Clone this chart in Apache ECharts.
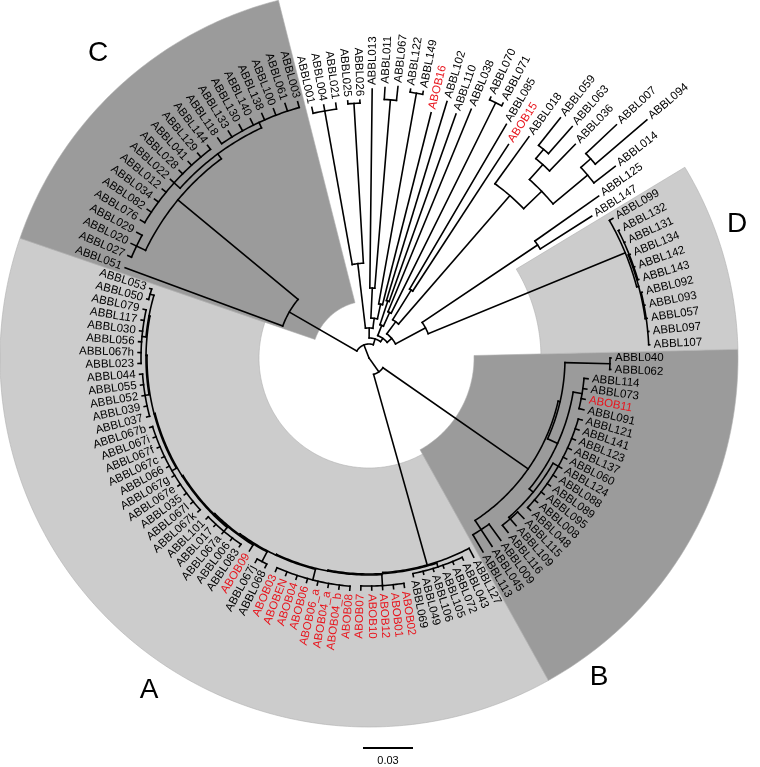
<!DOCTYPE html>
<html><head><meta charset="utf-8">
<script src="https://cdn.jsdelivr.net/npm/echarts@6/dist/echarts.min.js"></script>
<style>html,body{margin:0;padding:0;background:#fff}#main{width:760px;height:767px}</style>
</head><body><div id="main"></div>
<script>
// ---------- DATA ----------
// Leaves in circular (clockwise) order
const leafNames = [
 'ABBL040','ABBL062','ABBL114','ABBL073','ABOB11','ABBL091','ABBL121','ABBL141','ABBL123','ABBL137','ABBL060','ABBL124','ABBL088','ABBL089','ABBL095','ABBL008','ABBL048','ABBL115','ABBL109','ABBL116','ABBL009','ABBL045','ABBL113',
 'ABBL127','ABBL043','ABBL072','ABBL105','ABBL106','ABBL049','ABBL069','ABOB02','ABOB01','ABOB12','ABOB10','ABOB07','ABOB08','ABOB04_b','ABOB04_a','ABOB06_a','ABOB06','ABOB04','ABOBEN','ABOB03','ABBL068','ABBL067j','ABOB09','ABBL083','ABBL006','ABBL067a','ABBL017','ABBL101','ABBL067k','ABBL067l','ABBL035','ABBL067e','ABBL067g','ABBL066','ABBL067c','ABBL067f','ABBL067i','ABBL067b','ABBL037','ABBL039','ABBL052','ABBL055','ABBL044','ABBL023','ABBL067h','ABBL056','ABBL030','ABBL117','ABBL079','ABBL050','ABBL053',
 'ABBL051','ABBL027','ABBL020','ABBL029','ABBL076','ABBL082','ABBL034','ABBL012','ABBL022','ABBL028','ABBL041','ABBL129','ABBL144','ABBL118','ABBL133','ABBL130','ABBL140','ABBL138','ABBL100','ABBL061','ABBL003',
 'ABBL001','ABBL004','ABBL021','ABBL025','ABBL026','ABBL013','ABBL011','ABBL067','ABBL122','ABBL149','ABOB16','ABBL102','ABBL110','ABBL038','ABBL070','ABBL071','ABBL085','ABOB15','ABBL018','ABBL059','ABBL063','ABBL036','ABBL007','ABBL094','ABBL014','ABBL125','ABBL147',
 'ABBL099','ABBL132','ABBL131','ABBL134','ABBL142','ABBL143','ABBL092','ABBL093','ABBL057','ABBL097','ABBL107'
];
const leafParents = [
 'N040','N040','B1c','B1c','B1c','B1c','B1e','B1e','B1e','B1e','B1e','B1e','B1e','B1e','B1e','B1e','B1e','B1f','B1f','B1f','B2','B2','B2',
 'A','A3','A3','A3','A3','A3','A3','A4g','A4g','A4g','A4g','A4g','A5g','A5g','A5g','A5g','A5g','A5g','A5g','A5g','A6g','A6g','A7','A8g','A8g','A8g','A8g','A8g','A9g','A9g','A9g','A9g','A9g','A9g','A9g','A9g','A9g','A9g','A10g','A10g','A10g','A10g','A10g','A11g','A11g','A11g','A11g','A11g','A11g','A11h','A11h',
 'NC0','C1','C1','C1','C3','C3','C3','C3','C3','C3','C3','C3','C3','C4','C4','C4','C4','C4','C4','C4','C4',
 'N001','N001','N001','N025','N025','U1c','N011','N011','N122','N122','U1d','U3a','U3a','U3b','N070','N070','U5a','U5a','U5b','N059','N059','P1','N007','N007','P2','N125','N125',
 'D','N132','N132','N132','N132','N132','N092','N092','N092','N092','N092'
];
const leafDepths = [
 0.1452,0.1452,0.1320,0.1320,0.1320,0.1326,0.1332,0.1332,0.1332,0.1332,0.1332,0.1332,0.1332,0.1332,0.1332,0.1332,0.1332,0.1338,0.1338,0.1338,0.1350,0.1350,0.1350,
 0.1350,0.1338,0.1338,0.1338,0.1338,0.1338,0.1338,0.1392,0.1392,0.1392,0.1392,0.1392,0.1398,0.1398,0.1398,0.1398,0.1398,0.1398,0.1398,0.1398,0.1404,0.1404,0.1362,0.1374,0.1374,0.1374,0.1374,0.1374,0.1380,0.1380,0.1380,0.1380,0.1380,0.1380,0.1380,0.1380,0.1380,0.1380,0.1380,0.1380,0.1380,0.1380,0.1380,0.1386,0.1386,0.1386,0.1386,0.1386,0.1386,0.1380,0.1380,
 0.1560,0.1572,0.1584,0.1584,0.1602,0.1602,0.1602,0.1602,0.1602,0.1602,0.1602,0.1602,0.1602,0.1602,0.1602,0.1602,0.1602,0.1602,0.1602,0.1608,0.1596,
 0.1542,0.1542,0.1542,0.1548,0.1548,0.1614,0.1626,0.1638,0.1632,0.1632,0.1518,0.1608,0.1554,0.1614,0.1728,0.1728,0.1626,0.1530,0.1638,0.1842,0.1848,0.1782,0.2040,0.2196,0.1872,0.1686,0.1584,
 0.1686,0.1686,0.1686,0.1686,0.1686,0.1686,0.1686,0.1686,0.1686,0.1686,0.1686
];
// Internal nodes: id, parent, distance from root (substitutions/site)
const nodeIds = ['root','T','AB','A','A2','A3','A4','A4g','A5','A5g','A6','A6g','A7','A8','A8g','A9','A9g','A10','A10g','A11','A11g','A11h',
 'B','B1','N040','B1b','B1c','B1d','B1e','B1f','B2',
 'NC0','C','C1','C2','C3','C4',
 'U','U1','U1a','N001','N025','U1b','U1c','N011','U1d','N122','U2','U3','U3a','U3b','N070','U4','U5','U5a','U5b','Q','P1','N059','P2','N007','ND','N125','D','D1','N132','N092'];
const nodeParents = [null,'root','root','AB','A','A2','A2','A4','A4','A5','A5','A6','A6','A7','A8','A8','A9','A9','A10','A10','A11','A11',
 'AB','B','B1','B1','B1b','B1b','B1d','B1d','B',
 'T','NC0','C','C','C2','C2',
 'T','U','U1','U1a','U1a','U1','U1b','U1c','U1b','U1d','U','U2','U3','U3','U3b','U2','U4','U5','U5','U5b','Q','P1','Q','P2','U4','ND','ND','D','D1','D1'];
const nodeDepths = [0,0.0084,0.0102,0.1290,0.1296,0.1320,0.1302,0.1368,0.1308,0.1374,0.1314,0.1380,0.1320,0.1326,0.1356,0.1332,0.1362,0.1338,0.1362,0.1344,0.1368,0.1368,
 0.1164,0.1176,0.1446,0.1242,0.1296,0.1272,0.1308,0.1284,0.1230,
 0.0552,0.1488,0.1548,0.1524,0.1572,0.1560,
 0.0120,0.0180,0.0570,0.1506,0.1530,0.0240,0.0420,0.1554,0.0330,0.1614,0.0144,0.0210,0.0360,0.0300,0.1710,0.0180,0.0270,0.0480,0.1290,0.1440,0.1560,0.1632,0.1710,0.1788,0.0384,0.1218,0.1662,0.1674,0.1680,0.1680];
// Shaded clades
const cladeNames = ['A','B','C','D'];
const cladeFirstLeaf = ['ABBL127','ABBL040','ABBL051','ABBL099'];
const cladeLastLeaf = ['ABBL053','ABBL113','ABBL003','ABBL107'];
const cladeInnerDepth = [0.066,0.063,0.0342,0.1032];
const cladeOuterDepth = [0.2214,0.2214,0.2214,0.2214];
const highlightPrefix = 'ABOB';
const scaleBarValue = 0.03;

// ---------- BUILD ----------
const nLeaves = leafNames.length;
const nodeIndex = {}; nodeIds.forEach((id,i)=>nodeIndex[id]=i);
const kids = nodeIds.map(()=>({leaves:[],nodes:[]}));
leafParents.forEach((p,i)=>kids[nodeIndex[p]].leaves.push(i));
nodeParents.forEach((p,i)=>{ if(p!==null) kids[nodeIndex[p]].nodes.push(i); });
const nodeAngle = nodeIds.map(()=>null), nodeSpan = nodeIds.map(()=>null);
function angleOf(ni){
  if(nodeAngle[ni]!==null) return nodeAngle[ni];
  const as = kids[ni].leaves.slice().concat(kids[ni].nodes.map(angleOf));
  const mn = Math.min.apply(null,as), mx = Math.max.apply(null,as);
  nodeSpan[ni]=[mn,mx]; nodeAngle[ni]=(mn+mx)/2; return nodeAngle[ni];
}
nodeIds.forEach((_,i)=>angleOf(i));
const branches = [];
nodeIds.forEach((id,i)=>{
  branches.push({depth:nodeDepths[i], angle:nodeAngle[i], parentDepth: nodeParents[i]===null?null:nodeDepths[nodeIndex[nodeParents[i]]], span:nodeSpan[i]});
});
leafNames.forEach((n,i)=>{
  branches.push({depth:leafDepths[i], angle:i, parentDepth:nodeDepths[nodeIndex[leafParents[i]]], span:null});
});
const clades = cladeNames.map((c,i)=>({name:c, a0:leafNames.indexOf(cladeFirstLeaf[i])-0.5, a1:leafNames.indexOf(cladeLastLeaf[i])+0.5, r0:cladeInnerDepth[i], r1:cladeOuterDepth[i]}));
const cladeFill = {A:'#cccccc', B:'#9b9b9b', C:'#9b9b9b', D:'#cccccc'};
const FONT = '"Liberation Sans", Arial, Helvetica, sans-serif';

const chart = echarts.init(document.getElementById('main'));
chart.setOption({
  animation:false,
  backgroundColor:'#ffffff',
  polar:{center:[369,358], radius:369},
  angleAxis:{type:'value', min:0, max:nLeaves, startAngle:0, clockwise:true, show:false},
  radiusAxis:{type:'value', min:0, max:0.2214, show:false},
  graphic:[
    {type:'text', x:149, y:690, style:{text:'A', font:'28px '+FONT, fill:'#000', align:'center', verticalAlign:'middle'}},
    {type:'text', x:599, y:677, style:{text:'B', font:'28px '+FONT, fill:'#000', align:'center', verticalAlign:'middle'}},
    {type:'text', x:98, y:53, style:{text:'C', font:'28px '+FONT, fill:'#000', align:'center', verticalAlign:'middle'}},
    {type:'text', x:737, y:224, style:{text:'D', font:'28px '+FONT, fill:'#000', align:'center', verticalAlign:'middle'}}
  ],
  series:[
    {type:'custom', coordinateSystem:'polar', silent:true, z:1,
     data: clades.map(c=>[c.r1,(c.a0+c.a1)/2]),
     renderItem(params, api){
       const c = clades[params.dataIndex];
       const pts=[]; const n=Math.ceil((c.a1-c.a0)*4);
       for(let k=0;k<=n;k++) pts.push(api.coord([c.r1, c.a0+(c.a1-c.a0)*k/n]));
       for(let k=n;k>=0;k--) pts.push(api.coord([c.r0, c.a0+(c.a1-c.a0)*k/n]));
       return {type:'polygon', shape:{points:pts}, style:{fill:cladeFill[c.name], stroke:'#b0b0b0', lineWidth:0.6}};
     }},
    {type:'custom', coordinateSystem:'polar', silent:true, z:2,
     data: branches.map(b=>[b.depth,b.angle]),
     renderItem(params, api){
       const b = branches[params.dataIndex]; const ch=[];
       if(b.parentDepth!==null){
         const p1=api.coord([b.parentDepth,b.angle]), p2=api.coord([b.depth,b.angle]);
         ch.push({type:'line', shape:{x1:p1[0],y1:p1[1],x2:p2[0],y2:p2[1]}, style:{stroke:'#000',lineWidth:1.6,lineCap:'square'}});
       }
       if(b.span && b.depth>0){
         const pts=[]; const n=Math.max(2,Math.ceil((b.span[1]-b.span[0])*4));
         for(let k=0;k<=n;k++) pts.push(api.coord([b.depth, b.span[0]+(b.span[1]-b.span[0])*k/n]));
         ch.push({type:'polyline', shape:{points:pts}, style:{stroke:'#000',lineWidth:1.6,fill:null,lineCap:'square'}});
       }
       return {type:'group', children:ch};
     }},
    {type:'custom', coordinateSystem:'polar', silent:true, z:3,
     data: leafNames.map((n,i)=>[leafDepths[i], i]),
     renderItem(params, api){
       const i=params.dataIndex;
       const c0=api.coord([0,i]), tip=api.coord([leafDepths[i],i]);
       const dx=tip[0]-c0[0], dy=tip[1]-c0[1]; const L=Math.sqrt(dx*dx+dy*dy);
       const ux=dx/L, uy=dy/L; const th=Math.atan2(-uy,ux);
       const right = ux>=-1e-9;
       const name = leafNames[i];
       return {type:'text', x:tip[0]+ux*4, y:tip[1]+uy*4, rotation: right?th:th-Math.PI,
         style:{text:name, font:'11.5px '+FONT, fill: name.indexOf(highlightPrefix)===0?'#e8141c':'#000', align: right?'left':'right', verticalAlign:'middle'}};
     }},
    {type:'custom', coordinateSystem:'polar', silent:true, z:3,
     data:[[scaleBarValue,0]],
     renderItem(params, api){
       const a=api.coord([0,0]), b=api.coord([api.value(0),0]);
       const len=Math.hypot(b[0]-a[0], b[1]-a[1]);
       const x0=388-len/2, y=748;
       return {type:'group', children:[
         {type:'line', shape:{x1:x0,y1:y,x2:x0+len,y2:y}, style:{stroke:'#000',lineWidth:2}},
         {type:'text', x:x0+len/2, y:761, style:{text:String(scaleBarValue), font:'11px '+FONT, fill:'#000', align:'center', verticalAlign:'middle'}}
       ]};
     }}
  ]
});
</script></body></html>
